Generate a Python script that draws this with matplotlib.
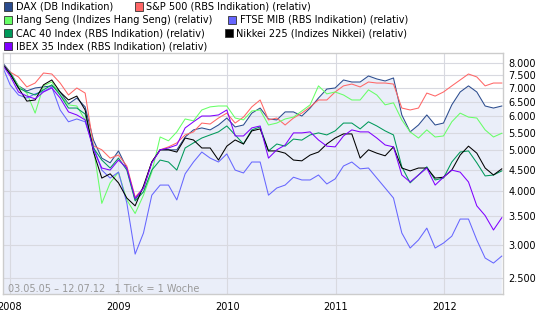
import matplotlib
matplotlib.use("Agg")
import matplotlib.pyplot as plt
import matplotlib.dates as mdates
from matplotlib.patches import Rectangle
from matplotlib.ticker import FixedLocator, NullLocator, FuncFormatter
import pandas as pd

plt.rcParams['font.family'] = ['DejaVu Sans']

# 4-week steps, values (relative to DAX start)
dates = pd.date_range(end="2012-07-12", periods=61, freq="28D")

dax = [8070, 7630, 7080, 6890, 7000, 7040, 7080, 6850, 6420, 6630,
       6320, 5280, 4790, 4670, 4980, 4540, 3830, 4075, 4690, 5010,
       5010, 5010, 5370, 5580, 5640, 5580, 5730, 5950, 5670, 5730,
       6110, 6280, 5920, 5890, 6150, 6150, 6015, 6280, 6630, 6960,
       7000, 7310, 7230, 7230, 7470, 7350, 7270, 7390, 6050, 5520,
       5730, 6050, 5730, 5790, 6390, 6850, 7080, 6850, 6350, 6280, 6350]
sp500 = [7970, 7630, 7430, 7040, 7190, 7590, 7550, 7190, 6740, 7000,
         6810, 5120, 5010, 4790, 4870, 4590, 3880, 4075, 4690, 5010,
         5090, 5200, 5430, 5520, 5790, 5760, 5950, 6110, 5790, 5980,
         6320, 6560, 5890, 5950, 5730, 5950, 6110, 6320, 6560, 6560,
         6850, 7080, 7150, 7040, 7230, 7190, 7190, 7150, 6280, 6215,
         6280, 6810, 6700, 6850, 7080, 7310, 7550, 7430, 7080, 7190, 7190]
hang_seng = [7930, 7590, 7080, 6810, 6110, 7080, 7230, 6740, 6390, 6350,
             5890, 5060, 3750, 4190, 4440, 3820, 3550, 3920, 4440, 5370,
             5260, 5520, 5920, 5860, 6215, 6320, 6350, 6350, 5950, 5890,
             6180, 6215, 5730, 5790, 5920, 5980, 6180, 6390, 7080, 6780,
             6850, 6740, 6560, 6560, 6930, 6740, 6390, 6460, 5890, 5520,
             5340, 5580, 5370, 5400, 5830, 6110, 5980, 5950, 5580, 5370, 5480]
ftse_mib = [7930, 7120, 6740, 6630, 6780, 6870, 7040, 6215, 5830, 5920,
            5830, 5090, 4490, 4300, 4440, 3760, 2850, 3195, 3920, 4140,
            4140, 3820, 4400, 4690, 4950, 4790, 4690, 4900, 4490, 4420,
            4690, 4690, 3920, 4075, 4140, 4320, 4256, 4256, 4372, 4165,
            4280, 4590, 4690, 4520, 4540, 4300, 4075, 3860, 3195, 2945,
            3076, 3280, 2945, 3025, 3140, 3445, 3445, 3076, 2790, 2715, 2820]
cac40 = [7970, 7590, 7000, 6850, 6740, 6930, 7120, 6740, 6280, 6280,
         6080, 5060, 4740, 4540, 4790, 4490, 3800, 3990, 4490, 4740,
         4690, 4490, 5060, 5200, 5340, 5430, 5520, 5700, 5430, 5170,
         5580, 5670, 4980, 5170, 5110, 5310, 5280, 5430, 5490, 5430,
         5550, 5790, 5790, 5610, 5830, 5700, 5550, 5430, 4570, 4190,
         4372, 4570, 4256, 4300, 4690, 4950, 4980, 4670, 4350, 4372, 4470]
nikkei = [8010, 7550, 7000, 6520, 6560, 7120, 7310, 6850, 6560, 6700,
          6215, 4950, 4300, 4400, 4190, 3860, 3700, 4120, 4690, 5010,
          5010, 4950, 5340, 5284, 5060, 5060, 4740, 5110, 5284, 5170,
          5550, 5610, 4980, 4980, 4920, 4740, 4720, 4870, 4950, 5170,
          5340, 5460, 5460, 4790, 5010, 4920, 4850, 5090, 4540, 4470,
          4540, 4540, 4300, 4320, 4490, 4870, 5110, 4920, 4540, 4372, 4520]
ibex35 = [7970, 7470, 6850, 6700, 6600, 6850, 7000, 6630, 6150, 6050,
          5890, 5010, 4540, 4490, 4740, 4540, 3850, 4075, 4670, 5010,
          5060, 5143, 5640, 5830, 6015, 6015, 6050, 6215, 5400, 5400,
          5640, 5700, 4790, 5010, 5143, 5490, 5490, 5520, 5284, 5110,
          5090, 5400, 5580, 5520, 5520, 5340, 5143, 5090, 4372, 4210,
          4372, 4540, 4140, 4320, 4490, 4440, 4210, 3700, 3510, 3247, 3470]

names = ["DAX (DB Indikation)", "S&P 500 (RBS Indikation) (relativ)",
         "Hang Seng (Indizes Hang Seng) (relativ)", "FTSE MIB (RBS Indikation) (relativ)",
         "CAC 40 Index (RBS Indikation) (relativ)", "Nikkei 225 (Indizes Nikkei) (relativ)",
         "IBEX 35 Index (RBS Indikation) (relativ)"]
series = [dax, sp500, hang_seng, ftse_mib, cac40, nikkei, ibex35]
colors = ["#2B4C8E", "#FF6666", "#66FF66", "#6666FF", "#00995A", "#000000", "#8000FF"]

yticks = [2500, 3000, 3500, 4000, 4500, 5000, 5500, 6000, 6500, 7000, 7500, 8000]
years = [2008, 2009, 2010, 2011, 2012]

W, H = 545, 327
fig = plt.figure(figsize=(W / 100, H / 100), dpi=100)
ax = fig.add_axes([3 / W, 33.5 / H, 500 / W, 241 / H])

ax.fill_between(dates, dax, 1000, color="#EAEEF9", lw=0, zorder=0.2)
for vals, c in zip(series, colors):
    ax.plot(dates, vals, color=c, lw=0.75, zorder=2)

ax.set_yscale("log")
ax.set_ylim(2303, 8481)
ax.set_xlim(pd.Timestamp("2007-12-10"), pd.Timestamp("2012-07-16"))

ax.yaxis.set_major_locator(FixedLocator(yticks))
ax.yaxis.set_minor_locator(NullLocator())
ax.yaxis.set_major_formatter(FuncFormatter(lambda v, p: f"{int(round(v)):,}".replace(",", ".")))
ax.yaxis.tick_right()
ax.set_xticks([pd.Timestamp(f"{y}-01-01") for y in years])
ax.xaxis.set_major_formatter(mdates.DateFormatter("%Y"))
ax.tick_params(axis="both", length=0, labelsize=7, colors="black")
ax.tick_params(axis="y", pad=4)
ax.tick_params(axis="x", pad=6)

ax.set_axisbelow(True)
ax.grid(True, color="#D8D9E0", lw=0.8)
for s in ax.spines.values():
    s.set_color("#CCCCCC")
    s.set_linewidth(1)

ax.text(0.01, 0.02, "03.05.05 \u2013 12.07.12   1 Tick = 1 Woche", transform=ax.transAxes,
        fontsize=7, color="#999999", va="center", ha="left")

# legend drawn by hand, flowing two columns like the original
leg_x = [4, 135, 4, 228, 4, 225, 4]
leg_y = [6.5, 6.5, 19.8, 19.8, 33.1, 33.1, 46.4]
for name, c, lx, ly in zip(names, colors, leg_x, leg_y):
    fig.add_artist(Rectangle((lx / W, 1 - (ly + 4) / H), 8 / W, 8 / H, transform=fig.transFigure,
                             facecolor=c, edgecolor="#333333", lw=0.6))
    fig.text((lx + 11.5) / W, 1 - ly / H, name, fontsize=7, va="center", ha="left")

fig.savefig("out.png", dpi=100)
